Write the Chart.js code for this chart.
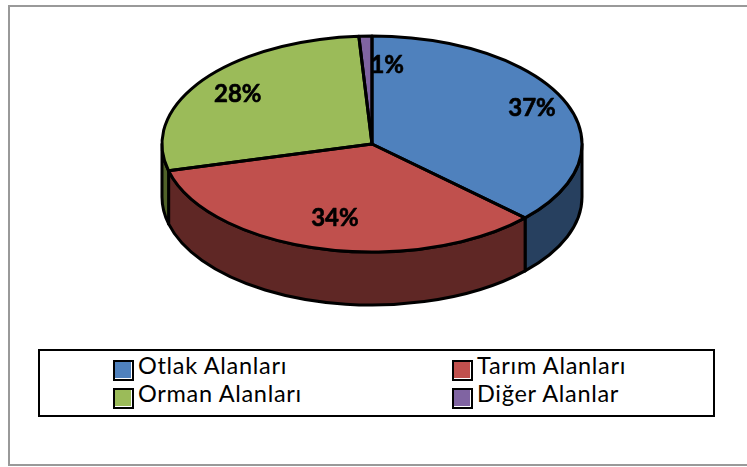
<!DOCTYPE html>
<html>
<head>
<meta charset="utf-8">
<script src="https://cdn.jsdelivr.net/npm/chart.js@4"></script>
<style>
html, body { margin: 0; padding: 0; background: #fff; }
#wrap { position: relative; width: 747px; height: 467px; overflow: hidden; }
#frame { position: absolute; left: 8px; top: 5px; width: 745px; height: 457px; border: 2px solid #999; }
canvas { position: absolute; left: 0; top: 0; }
#legend { position: absolute; left: 38px; top: 349px; width: 673px; height: 64px; border: 2px solid #000; background: #fff; }
.item { position: absolute; height: 28px; font: 23.5px Lato, sans-serif; letter-spacing: 0.7px; line-height: 28px; white-space: nowrap; color: #000; }
.swatch { position: absolute; left: 0; top: 4px; width: 17px; height: 17px; border: 2px solid #000; box-shadow: inset -1px -1px 0 #fff; }
.item span { position: absolute; left: 25px; top: -5px; }
</style>
</head>
<body>
<div id="wrap">
    <div id="frame"></div>
    <canvas id="pie" width="747" height="467"></canvas>
    <div id="legend"></div>
</div>
<script>
const categories = ['Otlak Alanları', 'Tarım Alanları', 'Orman Alanları', 'Diğer Alanlar'];
const shares = [37, 34, 28, 1];
const topColors = ['#4f81bd', '#c0504d', '#9bbb59', '#8064a2'];
const sideColors = ['#27405f', '#5f2725', '#4f6228', '#3f3151'];

// the flat pie gets squashed into an ellipse and moved up, Excel 3D style
const tilt = 108 / 210;
const pieCenterY = 144;
const depth = 53;
const outlineWidth = 3;
const labelReach = [0.83, 0.71, 0.79, 0.73];

function arcsOf(chart) {
    return chart.getDatasetMeta(0).data;
}

function sideWall(ctx, a, from, to) {
    const rx = a.outerRadius, ry = rx * tilt;
    ctx.beginPath();
    ctx.ellipse(a.x, pieCenterY, rx, ry, 0, from, to);
    ctx.ellipse(a.x, pieCenterY + depth, rx, ry, 0, to, from, true);
    ctx.closePath();
}

const pie3d = {
    id: 'pie3d',
    beforeDatasetsDraw(chart) {
        const ctx = chart.ctx;
        ctx.save();
        ctx.lineWidth = outlineWidth;
        ctx.lineJoin = 'round';
        ctx.strokeStyle = '#000';
        arcsOf(chart).forEach((a, i) => {
            // only the front half of the rim is visible
            const twoPi = Math.PI * 2;
            let start = a.startAngle, end = a.endAngle;
            while (start < -1e-6) { start += twoPi; end += twoPi; }
            const from = Math.max(start, 0), to = Math.min(end, Math.PI);
            if (to > from) {
                sideWall(ctx, a, from, to);
                ctx.fillStyle = sideColors[i];
                ctx.fill();
                ctx.stroke();
            }
            if (start < twoPi && end > twoPi) {
                sideWall(ctx, a, 0, end - twoPi);
                ctx.fillStyle = sideColors[i];
                ctx.fill();
                ctx.stroke();
            }
        });
        ctx.restore();

        const first = arcsOf(chart)[0];
        ctx.save();
        ctx.translate(first.x, pieCenterY);
        ctx.scale(1, tilt);
        ctx.translate(-first.x, -first.y);
    },
    afterDatasetsDraw(chart) {
        const ctx = chart.ctx;
        ctx.restore();
        ctx.save();
        ctx.lineWidth = outlineWidth;
        ctx.lineJoin = 'round';
        ctx.strokeStyle = '#000';
        arcsOf(chart).forEach((a) => {
            const rx = a.outerRadius, ry = rx * tilt;
            ctx.beginPath();
            ctx.moveTo(a.x, pieCenterY);
            ctx.ellipse(a.x, pieCenterY, rx, ry, 0, a.startAngle, a.endAngle);
            ctx.closePath();
            ctx.stroke();
        });

        ctx.fillStyle = '#000';
        ctx.strokeStyle = '#000';
        ctx.lineWidth = 0.6;
        ctx.font = 'bold 24px Lato, sans-serif';
        ctx.textAlign = 'center';
        ctx.textBaseline = 'middle';
        arcsOf(chart).forEach((a, i) => {
            const mid = (a.startAngle + a.endAngle) / 2;
            // the tiny slice has its label pushed over to the right, as in the source
            const nudge = shares[i] < 5 ? 20 : 0;
            const x = a.x + Math.cos(mid) * a.outerRadius * labelReach[i] + nudge;
            const y = pieCenterY + Math.sin(mid) * a.outerRadius * tilt * labelReach[i];
            ctx.fillText(shares[i] + '%', x, y);
            ctx.strokeText(shares[i] + '%', x, y);
        });
        ctx.restore();
    }
};

const pieChart = new Chart(document.getElementById('pie').getContext('2d'), {
    type: 'pie',
    data: {
        labels: categories,
        datasets: [{
            data: shares,
            backgroundColor: topColors,
            borderWidth: 0,
        }]
    },
    options: {
        responsive: false,
        animation: false,
        layout: { padding: { left: 162, right: 165, top: 23, bottom: 24 } },
        plugins: {
            legend: { display: false },
            tooltip: { enabled: false },
        },
    },
    plugins: [pie3d],
});

function buildLegend() {
    const box = document.getElementById('legend');
    const lefts = [73, 412];
    const tops = [5, 33];
    categories.forEach((name, i) => {
        const item = document.createElement('div');
        item.className = 'item';
        item.style.left = lefts[i % 2] + 'px';
        item.style.top = tops[Math.floor(i / 2)] + 'px';
        item.innerHTML = `<div class="swatch" style="background:${topColors[i]}"></div><span>${name}</span>`;
        box.appendChild(item);
    });
}

buildLegend();
</script>
</body>
</html>
